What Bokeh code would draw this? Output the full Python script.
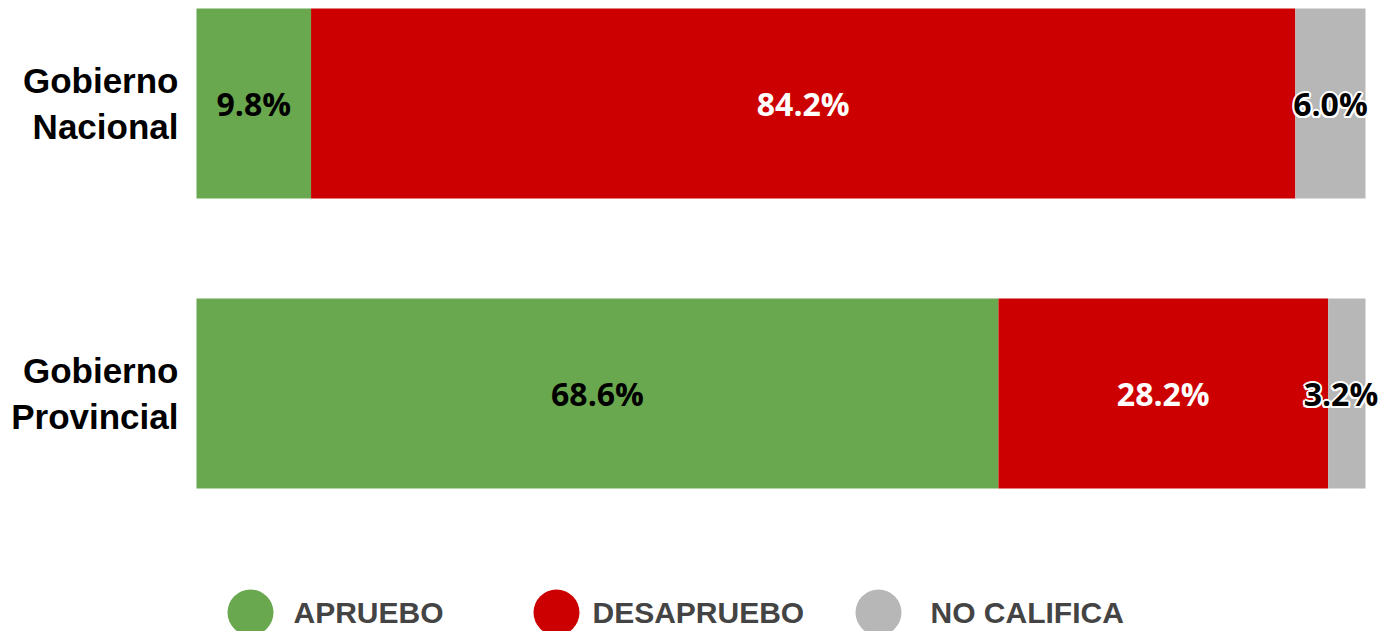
from bokeh.plotting import figure
from bokeh.models import Range1d, ColumnDataSource
from bokeh.core.properties import value
from bokeh.embed import file_html
from bokeh.resources import INLINE

# ---- data ----
categories = ["Gobierno\nNacional", "Gobierno\nProvincial"]
apruebo = [9.8, 68.6]
desapruebo = [84.2, 28.2]
no_califica = [6.0, 3.2]
series_names = ["APRUEBO", "DESAPRUEBO", "NO CALIFICA"]
series_colors = ["#6AA84F", "#CC0000", "#B7B7B7"]
label_colors = ["#000000", "#FFFFFF", "#000000"]

# ---- layout ----
W, H = 1380, 631
PX_X = 1169 / 100.0         # pixels per percent
PX_Y = 290.0                # pixels per category step
BAR_H = 190 / PX_Y
y_pos = [1, 0]              # Nacional on top
x0 = -196 / PX_X
x1 = x0 + W / PX_X
y1 = 1 + BAR_H / 2 + 8 / PX_Y
y0 = y1 - H / PX_Y
VAL_FS = 32

def px_x(px):  # picture px -> data x
    return (px - 196) / PX_X

def px_y(py):  # picture px -> data y
    return y1 - py / PX_Y

p = figure(width=W, height=H, x_range=Range1d(x0, x1), y_range=Range1d(y0, y1),
           output_backend="svg", toolbar_location=None,
           x_axis_location=None, y_axis_location=None,
           min_border=0, min_border_left=0, min_border_right=0,
           min_border_top=0, min_border_bottom=0)
p.outline_line_color = None
p.xgrid.visible = False
p.ygrid.visible = False
p.background_fill_color = "white"

series = [apruebo, desapruebo, no_califica]
left = [0.0] * len(categories)
for vals, name, col, lcol in zip(series, series_names, series_colors, label_colors):
    right = [l + v for l, v in zip(left, vals)]
    labs = [f"{v:.1f}%" for v in vals]
    # keep labels inside the figure
    half_w = [(len(s) * 0.6 * VAL_FS) / 2 / PX_X for s in labs]
    mids = [min((l + r) / 2, x1 - hw - 0.1) for l, r, hw in zip(left, right, half_w)]
    src = ColumnDataSource(dict(y=y_pos, left=left, right=right, mid=mids, lab=labs))
    p.hbar(y="y", left="left", right="right", height=BAR_H, source=src,
           fill_color=col, line_color=None)
    if name == "NO CALIFICA":
        for dx, dy in [(-2, 0), (2, 0), (0, -2), (0, 2), (-1.5, -1.5), (1.5, 1.5), (-1.5, 1.5), (1.5, -1.5)]:
            p.text(x="mid", y="y", text="lab", source=src, text_color="white",
                   text_font=value("Open Sans"), text_font_style="bold",
                   text_font_size=f"{VAL_FS}px", text_align="center",
                   text_baseline="middle", x_offset=dx, y_offset=dy)
    p.text(x="mid", y="y", text="lab", source=src, text_color=lcol,
           text_font=value("Open Sans"), text_font_style="bold",
           text_font_size=f"{VAL_FS}px", text_align="center", text_baseline="middle")
    left = right

# category labels
p.text(x=[px_x(178)] * len(categories), y=y_pos, text=categories,
       text_font=value("Liberation Sans"), text_font_style="bold",
       text_font_size="35px", text_color="black", text_align="right",
       text_baseline="middle", text_line_height=1.18)

# legend
circle_px = [250, 556, 878]
text_px = [293, 592, 930]
p.scatter(x=[px_x(c) for c in circle_px], y=[px_y(612)] * 3, size=46,
          marker="circle", fill_color=series_colors, line_color=None)
p.text(x=[px_x(t) for t in text_px], y=[px_y(612)] * 3, text=series_names,
       text_font=value("Liberation Sans"), text_font_style="bold",
       text_font_size="30px", text_color="#444444", text_align="left",
       text_baseline="middle")

open("out.html", "w").write(file_html(p, INLINE))
